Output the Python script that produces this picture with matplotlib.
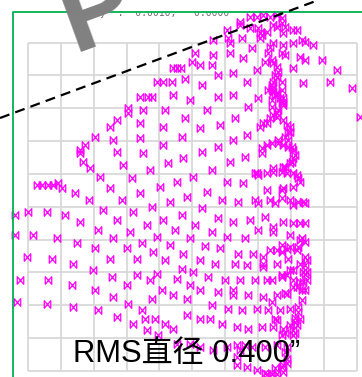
import numpy as np
import matplotlib
matplotlib.use("Agg")
import matplotlib.pyplot as plt
from matplotlib.path import Path
from matplotlib.patches import Rectangle

# Spot positions (detector units, origin at lower-left grid corner)
band_top = [
    (222, 354), (229, 354), (235, 356), (242, 354), (249, 356), (254, 353),
    (212, 349), (212, 346), (199, 341), (222, 343), (230, 343), (239, 339),
    (232, 338), (249, 344), (257, 344), (265, 341), (255, 338), (245, 346),
    (254, 348), (234, 336), (269, 341),
    (185, 331), (200, 333), (202, 328), (214, 333), (232, 333), (245, 328),
    (255, 326), (265, 328), (274, 331), (277, 329), (285, 326),
    (167, 318), (185, 316), (202, 318), (215, 313), (224, 323), (240, 318),
    (242, 324), (257, 316), (272, 314), (277, 311), (294, 311), (254, 318),
    (164, 309), (172, 306), (184, 306), (145, 303), (149, 303), (153, 303),
    (190, 296), (205, 298), (229, 301), (237, 309), (245, 308), (249, 304),
    (250, 299), (249, 294), (265, 303), (309, 301), (244, 311), (247, 296),
]

band_upper = [
    (129, 289), (135, 289), (144, 289), (157, 292), (174, 286), (219, 289),
    (245, 289), (254, 289), (275, 288), (302, 289), (324, 283),
    (112, 274), (120, 274), (124, 274), (145, 276), (162, 271), (190, 274),
    (205, 276), (230, 273), (244, 281), (247, 276), (249, 278), (255, 273),
    (255, 269), (244, 271), (332, 254), (244, 283), (254, 281), (252, 273),
    (254, 268), (244, 286), (240, 281), (245, 279),
    (100, 263), (100, 258), (115, 261), (137, 261), (179, 261), (220, 264),
    (244, 264), (250, 261), (255, 266), (245, 256), (249, 258),
    (89, 251), (82, 244), (157, 253), (207, 253), (192, 246), (172, 243),
    (135, 244), (232, 244), (239, 248), (242, 253), (249, 254), (255, 251),
    (259, 246), (262, 244), (235, 248),
    (112, 248), (154, 234), (219, 236), (205, 231), (262, 239), (257, 234),
    (260, 231), (67, 234), (85, 231), (112, 233), (135, 226), (57, 226),
    (260, 239), (250, 231),
]

band_middle = [
    (52, 221), (52, 218), (89, 219), (115, 218), (174, 219), (190, 224),
    (155, 213), (217, 214), (202, 209), (140, 208), (95, 206), (55, 209),
    (62, 203), (122, 201), (184, 201), (165, 194),
    (234, 223), (234, 218), (239, 226), (244, 228), (250, 228), (255, 226),
    (260, 224), (265, 221), (267, 216), (264, 209), (257, 204), (264, 224),
    (265, 213), (262, 208), (255, 204), (245, 203),
    (229, 198), (239, 198), (245, 199), (254, 199), (259, 198), (265, 198),
    (270, 193), (272, 189), (227, 198), (230, 196), (269, 196),
    (72, 194), (104, 193), (9, 186), (14, 186), (20, 186), (25, 186),
    (30, 188), (34, 183), (47, 178), (82, 183), (112, 178), (132, 184),
    (149, 189), (159, 174), (179, 179), (199, 189), (215, 188), (239, 181),
    (255, 183), (265, 184), (254, 181),
    (61, 171), (94, 171), (124, 164), (142, 169), (194, 171), (210, 169),
    (227, 171), (242, 171), (254, 173), (262, 171), (265, 166), (270, 169),
    (275, 169), (230, 168), (247, 168), (277, 168),
]

band_lower = [
    (0, 159), (19, 159), (-13, 156), (37, 156), (75, 161), (105, 159),
    (154, 156), (174, 163), (52, 149), (89, 151), (135, 151), (119, 146),
    (167, 146), (190, 153), (205, 149), (222, 151), (237, 154), (255, 149),
    (265, 148), (272, 148), (277, 148),
    (70, 141), (102, 139), (147, 141), (184, 139), (230, 141), (245, 144),
    (245, 139), (5, 136), (29, 133), (-13, 136), (85, 133), (129, 134),
    (162, 133), (199, 134), (217, 133), (262, 136), (274, 133), (277, 129),
    (272, 131),
    (49, 128), (67, 123), (99, 123), (114, 128), (142, 126), (177, 125),
    (192, 123), (254, 126), (262, 124), (270, 124),
    (-1, 114), (24, 112), (45, 107), (65, 101), (82, 112), (109, 112),
    (125, 119), (137, 111), (155, 117), (154, 102), (172, 111), (187, 107),
    (210, 117), (225, 117), (242, 121), (249, 121), (259, 122), (269, 121),
    (207, 107), (219, 106), (235, 107), (249, 107), (260, 112), (272, 107),
    (277, 106), (265, 101), (275, 99), (235, 114), (254, 119), (277, 114),
    (279, 111), (235, 104), (262, 101), (279, 99),
]

band_bottom = [
    (-8, 91), (20, 91), (44, 86), (84, 94), (109, 96), (129, 97), (99, 86),
    (122, 91), (149, 92), (165, 99), (180, 94), (197, 91), (212, 91),
    (227, 91), (239, 91), (244, 91), (254, 94), (259, 96), (265, 91),
    (277, 97), (275, 89), (254, 96), (272, 89), (279, 91),
    (-11, 69), (19, 67), (45, 64), (67, 81), (70, 61), (85, 74), (100, 67),
    (114, 61), (124, 72), (134, 81), (145, 76), (159, 72), (162, 86),
    (172, 81), (190, 79), (184, 66), (200, 62), (205, 81), (220, 76),
    (235, 74), (249, 76), (259, 77), (265, 84), (274, 81), (274, 71),
    (262, 62), (252, 61), (240, 61), (229, 62), (214, 61), (269, 84),
    (277, 81), (257, 78), (205, 76), (244, 69), (270, 64), (270, 59),
    (89, 54), (105, 47), (117, 52), (127, 52), (137, 47), (145, 42),
    (159, 56), (172, 52), (182, 52), (194, 47), (209, 44), (220, 42),
    (234, 44), (245, 44), (247, 52), (255, 42), (262, 46), (267, 49),
    (272, 52), (265, 41), (265, 36), (249, 51), (267, 53), (269, 46),
    (257, 38), (254, 36), (267, 38),
    (119, 41), (130, 36), (149, 27), (162, 27), (172, 24), (185, 21),
    (199, 24), (212, 21), (224, 24), (237, 24), (249, 26), (259, 24),
    (257, 19), (259, 12), (255, 6), (209, 14), (229, 1), (239, -3),
    (244, -3), (249, -3), (255, -1), (209, 26), (217, 26), (259, 8),
    (209, 6), (219, 4), (237, -2), (247, 3), (254, 4),
]

GRID_STEP = 32.85
GRID_DIVS = 10
rms_label = "RMS直径 0.400”"
header_label = "y  :  0.0010,   0.0000"

spots = np.array(band_top + band_upper + band_middle + band_lower + band_bottom,
                 dtype=float)

fig = plt.figure(figsize=(3.62, 3.77), dpi=100)
ax = fig.add_axes([0, 0, 1, 1])
ax.set_xlim(-28, 334)
ax.set_ylim(-6, 371)
ax.axis("off")

# reference grid
edges = np.arange(GRID_DIVS + 1) * GRID_STEP
ax.vlines(edges, 0, edges[-1], color="#d6d6d6", lw=1.2, zorder=1)
ax.hlines(edges, 0, edges[-1], color="#d6d6d6", lw=1.2, zorder=1)

# bow-tie spot marker
bowtie = Path([(-0.85, -1), (-0.85, 1), (0.85, -1), (0.85, 1), (-0.85, -1)],
              [Path.MOVETO, Path.LINETO, Path.LINETO, Path.LINETO, Path.LINETO])
ax.plot(spots[:, 0], spots[:, 1], linestyle="none", marker=bowtie,
        markersize=5.5, markerfacecolor="none", markeredgecolor="#ff00ff",
        markeredgewidth=0.9, zorder=3)

# header line; its upper part sits under the blank band above the frame
ax.text(72, 355, header_label, fontsize=7, family="DejaVu Sans Mono",
        color="#6f6f6f", ha="left", va="baseline", zorder=2)
ax.add_patch(Rectangle((-28, 359), 362, 20, facecolor="white",
                       edgecolor="none", zorder=2.5))

# frame
ax.plot([-15, -15, 340], [-20, 359, 359], color="#00b050", lw=1.3, zorder=4,
        clip_on=False)

# watermark letter
ax.text(46, 319, "P", fontsize=80, family="Liberation Sans", weight="bold",
        color="#808080", rotation=20, rotation_mode="anchor",
        ha="left", va="baseline", zorder=5)

# dashed guide line
ax.axline((-28, 253), (296, 373), color="black", lw=1.6,
          linestyle=(0, (4.5, 2.8)), zorder=6)

ax.text(45, 9, rms_label, fontsize=22.3,
        family=["Liberation Sans", "Noto Sans CJK SC"], color="black",
        ha="left", va="baseline", zorder=7)

fig.savefig("out.png", dpi=100)
